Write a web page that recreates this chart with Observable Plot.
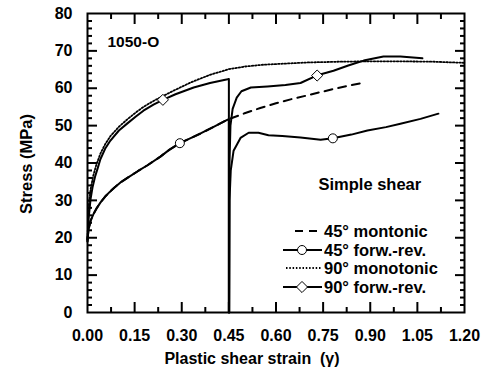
<!DOCTYPE html>
<html>
<head>
<meta charset="utf-8">
<script src="https://cdn.jsdelivr.net/npm/d3@7"></script>
<script src="https://cdn.jsdelivr.net/npm/@observablehq/plot@0.6"></script>
<style>
  html, body { margin: 0; padding: 0; background: #fff; }
  #wrap { position: relative; width: 482px; height: 370px; }
  #wrap svg { position: absolute; left: 0; top: 0; }
  #wrap text { white-space: pre; }
</style>
</head>
<body>
<div id="wrap"></div>
<script>
// ---- data ----
const xTickValues = [0, 0.15, 0.30, 0.45, 0.60, 0.75, 0.90, 1.05, 1.20];
const yTickValues = [0, 10, 20, 30, 40, 50, 60, 70, 80];

// 45° monotonic (dashed)
const mono45X = [0, 0.003, 0.01, 0.02, 0.03, 0.041, 0.055, 0.07, 0.085, 0.105, 0.127, 0.16, 0.191, 0.232, 0.26, 0.294, 0.33, 0.36, 0.4, 0.446, 0.5, 0.55, 0.6, 0.65, 0.7, 0.783, 0.83, 0.879];
const mono45Y = [19.5, 22, 24.6, 26.5, 28, 29.4, 30.9, 32.2, 33.4, 34.8, 36, 37.8, 39.4, 41.7, 43.5, 45.3, 46.7, 47.9, 49.6, 51.6, 53.3, 54.7, 56.0, 57.1, 58.1, 59.8, 60.7, 61.5];

// 45° forward-reverse (solid, circles)
const fr45X = [0, 0.003, 0.01, 0.02, 0.03, 0.041, 0.055, 0.07, 0.085, 0.105, 0.127, 0.16, 0.191, 0.232, 0.26, 0.294, 0.33, 0.36, 0.4, 0.446, 0.45, 0.45,
               0.451, 0.452, 0.456, 0.465, 0.487, 0.513, 0.544, 0.576, 0.62, 0.678, 0.742, 0.781, 0.84, 0.891, 0.95, 0.996, 1.06, 1.117];
const fr45Y = [19.5, 22, 24.6, 26.5, 28, 29.4, 30.9, 32.2, 33.4, 34.8, 36, 37.8, 39.4, 41.7, 43.5, 45.3, 46.7, 47.9, 49.6, 51.6, 51.7, 0,
               0, 30, 38, 43.3, 46.7, 48.1, 48.1, 47.4, 47.2, 46.8, 46.2, 46.6, 47.6, 48.7, 49.6, 50.5, 51.8, 53.2];
const fr45MarkX = [0.294, 0.781];
const fr45MarkY = [45.3, 46.6];

// 90° monotonic (dotted)
const mono90X = [0, 0.002, 0.005, 0.01, 0.018, 0.028, 0.041, 0.056, 0.073, 0.1, 0.127, 0.155, 0.178, 0.21, 0.24, 0.28, 0.33, 0.39, 0.45, 0.5, 0.56, 0.63, 0.7, 0.8, 0.9, 1.0, 1.1, 1.2];
const mono90Y = [19, 25, 29.5, 33, 36.5, 39.5, 42.5, 45, 47.2, 49.7, 51.7, 53.6, 55, 56.6, 57.9, 59.6, 61.6, 63.6, 65.1, 65.8, 66.3, 66.6, 66.9, 67.1, 67.2, 67.2, 67.1, 66.8];

// 90° forward-reverse (solid, diamonds)
const fr90X = [0, 0.002, 0.004, 0.01, 0.016, 0.024, 0.032, 0.041, 0.056, 0.073, 0.1, 0.127, 0.155, 0.178, 0.21, 0.24, 0.28, 0.338, 0.39, 0.446, 0.45, 0.45,
               0.451, 0.452, 0.455, 0.462, 0.475, 0.49, 0.52, 0.573, 0.63, 0.678, 0.729, 0.783, 0.83, 0.879, 0.942, 0.996, 1.066];
const fr90Y = [19, 23, 25.5, 30.5, 33.5, 36.3, 38.5, 41, 43.8, 46, 48.7, 50.6, 52.5, 54, 55.6, 56.9, 58.4, 60.2, 61.4, 62.4, 62.5, 0,
               0, 40, 50, 54.5, 57.5, 59.2, 60.2, 60.5, 60.9, 61.4, 63.4, 64.7, 66.1, 67.4, 68.5, 68.5, 68];
const fr90MarkX = [0.240, 0.731];
const fr90MarkY = [56.9, 63.4];

const legendLabels = ["45° montonic", "45° forw.-rev.", "90° monotonic", "90° forw.-rev."];
const xLabel = "Plastic shear strain  (γ)";
const yLabel = "Stress (MPa)";
const materialLabel = "1050-O";
const testLabel = "Simple shear";

// ---- build tables ----
const zip = (xs, ys) => xs.map((x, i) => ({x, y: ys[i]}));
const mono45 = zip(mono45X, mono45Y);
const fr45 = zip(fr45X, fr45Y);
const mono90 = zip(mono90X, mono90Y);
const fr90 = zip(fr90X, fr90Y);
const fr45M = zip(fr45MarkX, fr45MarkY);
const fr90M = zip(fr90MarkX, fr90MarkY);

const W = 482, H = 370;
const mL = 87, mR = 18, mT = 13, mB = 58;

const xMajor = d3.range(1, 8).map(i => i * 0.15);
const xMinor = d3.range(0, 8).map(i => 0.075 + i * 0.15);
const yMajor = d3.range(1, 8).map(i => i * 10);
const yMinor = d3.range(1, 40).filter(i => i % 5 !== 0).map(i => i * 2);

const font = "Liberation Sans, Arial, Helvetica, sans-serif";
const tk = {fill: "none", label: null, stroke: "#000", strokeWidth: 2};

const chart = Plot.plot({
  width: W, height: H,
  marginLeft: mL, marginRight: mR, marginTop: mT, marginBottom: mB,
  style: {fontFamily: font, fontWeight: "bold", fontSize: "16px", color: "#000", background: "#fff"},
  x: {domain: [0, 1.2]},
  y: {domain: [0, 80]},
  marks: [
    Plot.axisX(xTickValues, {tickSize: 0, tickPadding: 17, tickFormat: d3.format(".2f"), label: null, fontSize: 16, fontWeight: "bold"}),
    Plot.axisY(yTickValues, {tickSize: 0, tickPadding: 15, tickFormat: d3.format("d"), label: null, fontSize: 16, fontWeight: "bold"}),
    // inward ticks on all four sides (outward axis ticks shifted inside the frame)
    Plot.axisX(xMajor, {...tk, anchor: "bottom", tickSize: 10, dy: -10}),
    Plot.axisX(xMinor, {...tk, anchor: "bottom", tickSize: 5, dy: -5}),
    Plot.axisX(xMajor, {...tk, anchor: "top", tickSize: 10, dy: 10}),
    Plot.axisX(xMinor, {...tk, anchor: "top", tickSize: 5, dy: 5}),
    Plot.axisY(yMajor, {...tk, anchor: "left", tickSize: 10, dx: 10}),
    Plot.axisY(yMinor, {...tk, anchor: "left", tickSize: 5, dx: 5}),
    Plot.axisY(yMajor, {...tk, anchor: "right", tickSize: 10, dx: -10}),
    Plot.axisY(yMinor, {...tk, anchor: "right", tickSize: 5, dx: -5}),
    // curves
    Plot.line(mono90, {x: "x", y: "y", stroke: "#000", strokeWidth: 1.8, strokeDasharray: "1.5,1.8"}),
    Plot.line(mono45, {x: "x", y: "y", stroke: "#000", strokeWidth: 2, strokeDasharray: "8,6"}),
    Plot.line(fr45, {x: "x", y: "y", stroke: "#000", strokeWidth: 2}),
    Plot.line(fr90, {x: "x", y: "y", stroke: "#000", strokeWidth: 2}),
    Plot.dot(fr45M, {x: "x", y: "y", r: 4.5, fill: "#fff", stroke: "#000", strokeWidth: 1}),
    Plot.dot(fr90M, {x: "x", y: "y", r: 5, symbol: "diamond2", fill: "#fff", stroke: "#000", strokeWidth: 1}),
    Plot.frame({stroke: "#000", strokeWidth: 2}),
    // annotations
    Plot.text([materialLabel], {text: d => d, frameAnchor: "top-left", dx: 20, dy: 29, textAnchor: "start", lineAnchor: "middle", fontSize: 15.5, fontWeight: "bold"}),
    Plot.text([testLabel], {text: d => d, frameAnchor: "top-left", dx: 231, dy: 171, textAnchor: "start", lineAnchor: "middle", fontSize: 16.5, fontWeight: "bold"}),
    Plot.text([yLabel], {text: d => d, frameAnchor: "left", dx: -61, dy: 1, rotate: -90, textAnchor: "middle", lineAnchor: "middle", fontSize: 16.5, fontWeight: "bold"}),
    Plot.text([xLabel], {text: d => d, frameAnchor: "bottom", dx: -24, dy: 46, textAnchor: "middle", lineAnchor: "middle", fontSize: 16, fontWeight: "bold"})
  ]
});

const wrap = document.getElementById("wrap");
wrap.appendChild(chart);

// ---- legend overlay ----
const ov = d3.select(wrap).append("svg")
  .attr("width", W).attr("height", H)
  .style("pointer-events", "none");
const rowY = [231, 250, 268, 287];
const styles = [
  {dash: "8,6", x0: 295, x1: 320, marker: null},
  {dash: null, x0: 283, x1: 322, marker: "circle"},
  {dash: "1.5,1.8", x0: 286, x1: 321, marker: null},
  {dash: null, x0: 283, x1: 322, marker: "diamond"}
];
legendLabels.forEach((lab, i) => {
  const yy = rowY[i];
  const st = styles[i];
  ov.append("line").attr("x1", st.x0).attr("x2", st.x1).attr("y1", yy).attr("y2", yy)
    .attr("stroke", "#000").attr("stroke-width", st.dash === "1.5,1.8" ? 1.8 : 2)
    .attr("stroke-dasharray", st.dash);
  if (st.marker === "circle") {
    ov.append("circle").attr("cx", 302).attr("cy", yy).attr("r", 4.5)
      .attr("fill", "#fff").attr("stroke", "#000");
  } else if (st.marker === "diamond") {
    ov.append("path").attr("d", d3.symbol(d3.symbolDiamond2, Math.PI * 25)())
      .attr("transform", `translate(302,${yy})`)
      .attr("fill", "#fff").attr("stroke", "#000");
  }
  ov.append("text").attr("x", 324).attr("y", yy).attr("dy", "0.35em")
    .attr("font-family", font).attr("font-weight", "bold").attr("font-size", 16.5)
    .text(lab);
});
</script>
</body>
</html>
